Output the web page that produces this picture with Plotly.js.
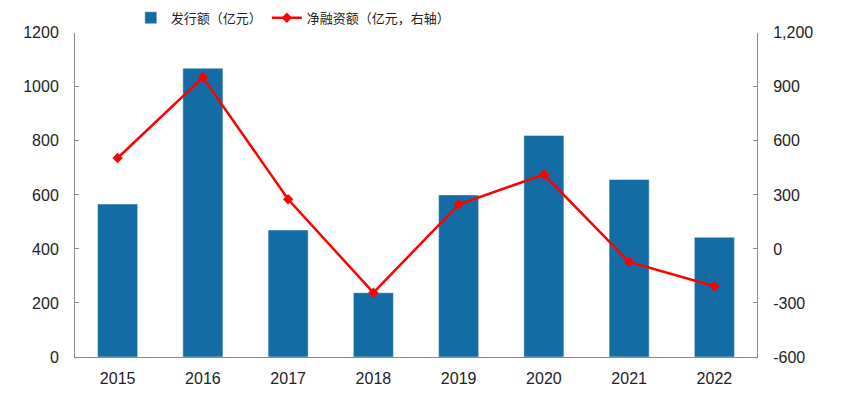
<!DOCTYPE html>
<html>
<head>
<meta charset="utf-8">
<script src="https://cdn.plot.ly/plotly-3.0.1.min.js"></script>
<style>html,body{margin:0;padding:0;background:#fff;}#chart{width:844px;height:396px;}</style>
</head>
<body>
<div id="chart"></div>
<script>
const years = ['2015','2016','2017','2018','2019','2020','2021','2022'];
const issuance = [566, 1069, 470, 238, 600, 820, 657, 443];
const netFinancing = [505, 953, 276, -243, 247, 413, -72, -207];
const leftTicks = [0, 200, 400, 600, 800, 1000, 1200];
const leftTickText = ['0', '200', '400', '600', '800', '1000', '1200'];
const rightTicks = [-600, -300, 0, 300, 600, 900, 1200];
const rightTickText = ['-600', '-300', '0', '300', '600', '900', '1,200'];
const seriesNames = ['发行额（亿元）', '净融资额（亿元，右轴）'];

const traces = [
  {
    type: 'bar', x: years, y: issuance, name: seriesNames[0],
    marker: {color: '#146ca4', line: {color: 'rgba(255,255,255,0.45)', width: 1}},
    yaxis: 'y'
  },
  {
    type: 'scatter', mode: 'lines+markers', x: years, y: netFinancing, name: seriesNames[1],
    line: {color: '#ff0000', width: 2.5},
    marker: {symbol: 'diamond', size: 8, color: '#ff0000'},
    yaxis: 'y2'
  }
];

const layout = {
  width: 844, height: 396,
  margin: {l: 75, r: 87, t: 29, b: 39},
  paper_bgcolor: '#fff', plot_bgcolor: '#fff',
  font: {family: 'Liberation Sans, Arial, sans-serif', size: 16, color: '#222'},
  bargap: 0.53,
  showlegend: true,
  legend: {
    orientation: 'h', xref: 'container', yref: 'container',
    x: 0.155, xanchor: 'left', y: 0.955, yanchor: 'middle',
    font: {family: 'Noto Sans CJK SC, sans-serif', size: 13, color: '#222'},
    itemwidth: 30, traceorder: 'normal', tracegroupgap: 0
  },
  xaxis: {
    type: 'category', showline: true, linecolor: '#888', linewidth: 1,
    ticks: '', showgrid: false, zeroline: false,
    tickfont: {size: 16}, ticklabelstandoff: 7
  },
  yaxis: {
    range: [0, 1200], tickvals: leftTicks, ticktext: leftTickText,
    showline: true, linecolor: '#888', linewidth: 1,
    ticks: 'inside', ticklen: 4, tickcolor: '#888',
    showgrid: false, zeroline: false, tickfont: {size: 16},
    ticklabelstandoff: 12
  },
  yaxis2: {
    range: [-600, 1200], tickvals: rightTicks, ticktext: rightTickText,
    overlaying: 'y', side: 'right',
    showline: true, linecolor: '#888', linewidth: 1,
    ticks: 'inside', ticklen: 4, tickcolor: '#888',
    showgrid: false, zeroline: false, tickfont: {size: 16},
    ticklabelstandoff: 12
  }
};

Plotly.newPlot('chart', traces, layout, {displayModeBar: false, staticPlot: true});
</script>
</body>
</html>
